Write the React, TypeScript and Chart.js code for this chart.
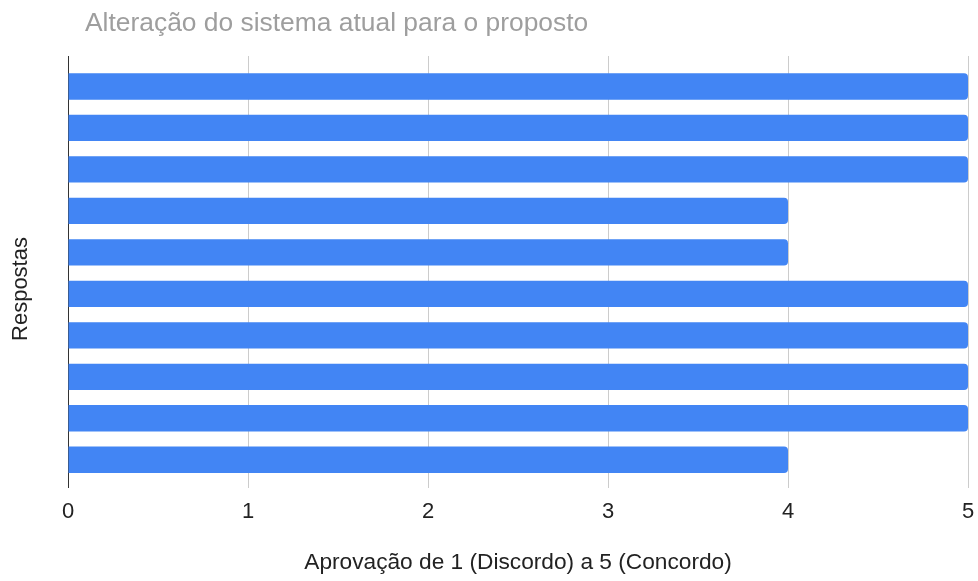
import React, { useEffect, useRef } from "react";
import { Chart, registerables } from "chart.js";

Chart.register(...registerables);

const chartTitle = "Alteração do sistema atual para o proposto";
const xAxisTitle = "Aprovação de 1 (Discordo) a 5 (Concordo)";
const yAxisTitle = "Respostas";
const respostas = ["1", "2", "3", "4", "5", "6", "7", "8", "9", "10"];
const aprovacao = [5, 5, 5, 4, 4, 5, 5, 5, 5, 4];
const xTicks = [0, 1, 2, 3, 4, 5];

const FONT = "'Liberation Sans', Arial, sans-serif";

const textPlugin = {
  id: "textPlugin",
  afterDraw(chart: any) {
    const ctx = chart.ctx;
    ctx.save();
    ctx.fillStyle = "#9e9e9e";
    ctx.font = `26.4px ${FONT}`;
    ctx.textAlign = "left";
    ctx.textBaseline = "alphabetic";
    ctx.fillText(chartTitle, 85, 31);
    ctx.fillStyle = "#222222";
    ctx.font = `22px ${FONT}`;
    ctx.translate(21, 289);
    ctx.rotate(-Math.PI / 2);
    ctx.textAlign = "center";
    ctx.textBaseline = "middle";
    ctx.fillText(yAxisTitle, 0, 0);
    ctx.restore();
  },
};

export default function App() {
  const ref = useRef<HTMLCanvasElement | null>(null);
  useEffect(() => {
    if (!ref.current) return;
    const chart = new Chart(ref.current, {
      type: "bar",
      data: {
        labels: respostas,
        datasets: [
          {
            data: aprovacao.map((v, i) => ({ x: v, y: i })) as any,
            backgroundColor: "#4285F4",
            borderRadius: 4,
            borderSkipped: "start",
            barPercentage: 0.635,
            categoryPercentage: 1,
          },
        ],
      },
      options: {
        indexAxis: "y",
        animation: false,
        responsive: false,
        maintainAspectRatio: false,
        events: [],
        layout: { padding: { left: 68, right: 10, top: 56, bottom: 0 } },
        plugins: {
          legend: { display: false },
          tooltip: { enabled: false },
          title: { display: false },
        },
        scales: {
          y: {
            type: "linear",
            reverse: true,
            offset: false,
            min: -0.735,
            max: 9.69,
            display: false,
            grid: { offset: false },
            afterBuildTicks: (scale: any) => {
              scale.ticks = respostas.map((_, i) => ({ value: i }));
            },
          },
          x: {
            type: "linear",
            min: 0,
            max: 5,
            afterBuildTicks: (scale: any) => {
              scale.ticks = xTicks.map((v) => ({ value: v }));
            },
            afterFit: (scale: any) => {
              scale.paddingLeft = 0;
              scale.paddingRight = 0;
            },
            grid: {
              drawTicks: false,
              color: (c: any) => (c.tick && c.tick.value === 0 ? "#333333" : "#cccccc"),
              lineWidth: 1,
            },
            border: { display: false },
            ticks: {
              padding: 10,
              color: "#222222",
              font: { family: FONT, size: 22 },
            },
            title: {
              display: true,
              text: xAxisTitle,
              color: "#222222",
              font: { family: FONT, size: 22.7 },
              padding: { top: 14, bottom: 5 },
            },
          },
        },
      },
      plugins: [textPlugin],
    });
    return () => chart.destroy();
  }, []);
  return (
    <div style={{ position: "absolute", left: 0, top: 0, width: 978, height: 581 }}>
      <canvas ref={ref} width={978} height={581} style={{ display: "block" }} />
    </div>
  );
}
